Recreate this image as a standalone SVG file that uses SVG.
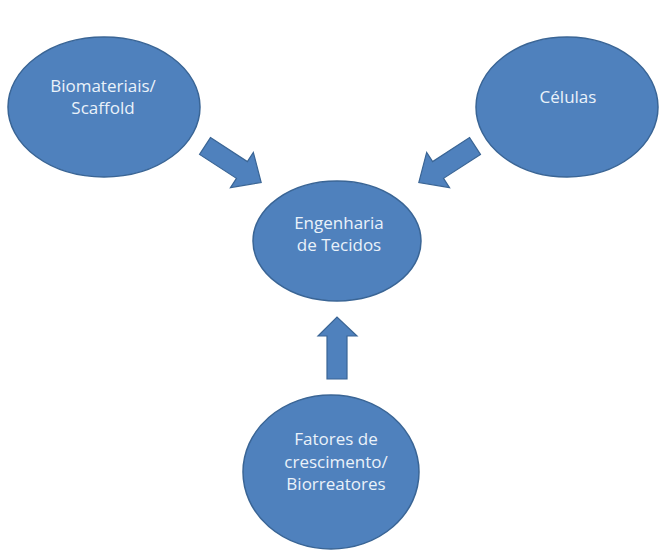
<svg xmlns="http://www.w3.org/2000/svg" width="659" height="554" viewBox="0 0 659 554">
<style>
.node{fill:#4F81BD;stroke:#3A6595;stroke-width:1.5}
.arrow{fill:#4F81BD;stroke:#3A6595;stroke-width:1.2}
.lbl{font-family:"Open Sans","Liberation Sans",sans-serif;font-size:17px;fill:#EAF2FA;text-anchor:middle}
</style>
<rect width="659" height="554" fill="#FFFFFF"/>
<defs>
<path id="arr" d="M0,-10 L44,-10 L44,-21 L67,0 L44,21 L44,10 L0,10 Z"/>
</defs>
<g id="connectors">
<use href="#arr" class="arrow" transform="translate(205,146) rotate(33)"/>
<use href="#arr" class="arrow" transform="translate(475,146) rotate(147)"/>
<path class="arrow" d="M327,379 L327,336 L318,336 L337,317 L357,336 L347,336 L347,379 Z"/>
</g>
<g id="biomateriais">
<ellipse class="node" cx="104" cy="107" rx="96" ry="70"/>
<text class="lbl" x="103" y="92">Biomateriais/</text>
<text class="lbl" x="103" y="114">Scaffold</text>
</g>
<g id="celulas">
<ellipse class="node" cx="567" cy="107" rx="91" ry="70"/>
<text class="lbl" x="568" y="103">Células</text>
</g>
<g id="engenharia">
<ellipse class="node" cx="337" cy="241" rx="84" ry="60"/>
<text class="lbl" x="339" y="229">Engenharia</text>
<text class="lbl" x="339" y="251">de Tecidos</text>
</g>
<g id="fatores">
<ellipse class="node" cx="331" cy="472" rx="88" ry="77"/>
<text class="lbl" x="336" y="445">Fatores de</text>
<text class="lbl" x="336" y="468">crescimento/</text>
<text class="lbl" x="336" y="490">Biorreatores</text>
</g>
</svg>
